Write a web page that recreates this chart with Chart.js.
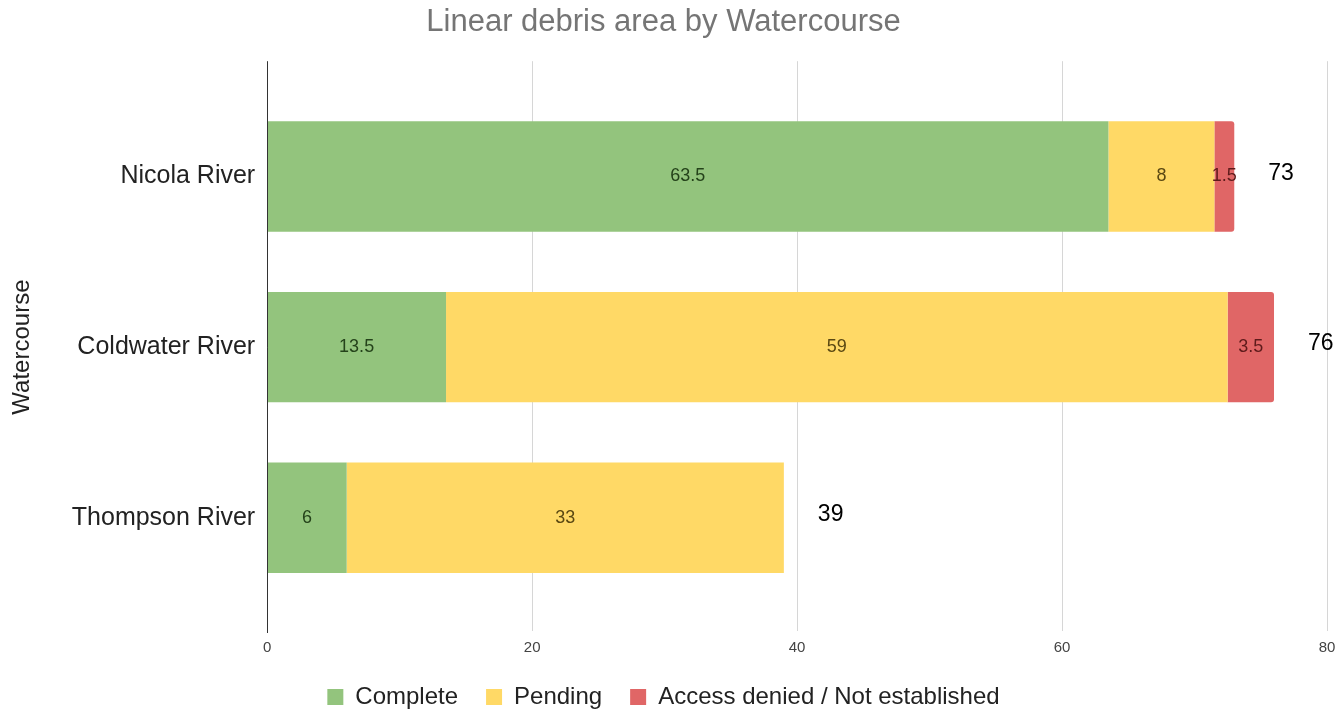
<!DOCTYPE html>
<html>
<head>
<meta charset="utf-8">
<script src="https://cdn.jsdelivr.net/npm/chart.js@4"></script>
<style>
  html, body { margin: 0; padding: 0; background: #fff; }
  #wrap { width: 1341px; height: 712px; }
</style>
</head>
<body>
<div id="wrap"><canvas id="debris-chart" width="1341" height="712"></canvas></div>
<script>
// data
var watercourses = ["Nicola River", "Coldwater River", "Thompson River"];
var complete = [63.5, 13.5, 6];
var pending = [8, 59, 33];
var denied = [1.5, 3.5, null];
var xTicks = [0, 20, 40, 60, 80];

var totals = watercourses.map(function (w, i) {
    return (complete[i] || 0) + (pending[i] || 0) + (denied[i] || 0);
});

var FONT = '"Liberation Sans", Arial, sans-serif';

// grid lines run a bit past the bars, like the sheet chart
var gridPlugin = {
    id: 'gridPlugin',
    beforeDatasetsDraw: function (chart) {
        var ctx = chart.ctx, x = chart.scales.x, a = chart.chartArea;
        ctx.save();
        ctx.lineWidth = 1;
        ctx.strokeStyle = '#d6d6d6';
        xTicks.forEach(function (t) {
            if (t === 0) return;
            var px = Math.round(x.getPixelForValue(t)) + 0.5;
            ctx.beginPath();
            ctx.moveTo(px, a.top - 30);
            ctx.lineTo(px, a.bottom + 28);
            ctx.stroke();
        });
        ctx.restore();
    },
    afterDatasetsDraw: function (chart) {
        var ctx = chart.ctx, x = chart.scales.x, a = chart.chartArea;
        ctx.save();
        // value labels inside segments
        ctx.font = '18px ' + FONT;
        ctx.textAlign = 'center';
        ctx.textBaseline = 'middle';
        chart.data.datasets.forEach(function (ds, di) {
            var meta = chart.getDatasetMeta(di);
            meta.data.forEach(function (el, i) {
                var v = ds.data[i];
                if (v == null || v === 0) return;
                var p = el.getProps(['x', 'y', 'base'], true);
                ctx.fillStyle = ds.labelColor;
                ctx.fillText(String(v), (p.x + p.base) / 2, p.y);
            });
        });
        // totals at the end of each bar
        ctx.font = '23px ' + FONT;
        ctx.textAlign = 'left';
        ctx.fillStyle = '#000';
        var meta0 = chart.getDatasetMeta(0);
        totals.forEach(function (t, i) {
            var py = meta0.data[i].y;
            ctx.fillText(String(t), x.getPixelForValue(t) + 34, py - 3);
        });
        // axis line
        var x0 = Math.round(x.getPixelForValue(0)) + 0.5;
        ctx.strokeStyle = '#333';
        ctx.lineWidth = 1;
        ctx.beginPath();
        ctx.moveTo(x0, a.top - 30);
        ctx.lineTo(x0, a.bottom + 30);
        ctx.stroke();
        ctx.restore();
    }
};

var ctx = document.getElementById('debris-chart');
new Chart(ctx, {
    type: 'bar',
    data: {
        labels: watercourses,
        datasets: [
            {
                label: 'Complete',
                data: complete,
                backgroundColor: '#93c47d',
                labelColor: '#24421a'
            },
            {
                label: 'Pending',
                data: pending,
                backgroundColor: '#ffd966',
                labelColor: '#5a4812'
            },
            {
                label: 'Access denied / Not established',
                data: denied,
                backgroundColor: '#e06666',
                labelColor: '#5e1b1b',
                borderRadius: 3
            }
        ]
    },
    options: {
        indexAxis: 'y',
        responsive: false,
        animation: false,
        categoryPercentage: 0.647,
        barPercentage: 1,
        layout: {
            padding: { left: 0, right: 14, top: 0, bottom: -7 }
        },
        plugins: {
            title: {
                display: true,
                text: 'Linear debris area by Watercourse',
                color: '#757575',
                font: { family: FONT, size: 31, weight: 'normal' },
                padding: { top: 4, bottom: 50 }
            },
            legend: {
                position: 'bottom',
                labels: {
                    boxWidth: 16,
                    boxHeight: 16,
                    padding: 28,
                    color: '#222',
                    font: { family: FONT, size: 24 }
                }
            },
            tooltip: { enabled: false }
        },
        scales: {
            x: {
                stacked: true,
                min: 0,
                max: 80,
                afterBuildTicks: function (axis) {
                    axis.ticks = xTicks.map(function (v) { return { value: v }; });
                },
                afterFit: function (axis) {
                    axis.height = 54;
                    axis.paddingLeft = 0;
                    axis.paddingRight = 0;
                },
                grid: { display: false, drawTicks: false },
                border: { display: false },
                ticks: {
                    padding: 36,
                    color: '#444',
                    font: { family: FONT, size: 15 }
                }
            },
            y: {
                stacked: true,
                afterFit: function (axis) {
                    axis.paddingTop = 0;
                    axis.paddingBottom = 0;
                },
                grid: { display: false, drawTicks: false },
                border: { display: false },
                ticks: {
                    padding: 12,
                    color: '#222',
                    font: { family: FONT, size: 25 }
                },
                title: {
                    display: true,
                    text: 'Watercourse',
                    color: '#222',
                    font: { family: FONT, size: 24 },
                    padding: { top: 8, bottom: 23 }
                }
            }
        }
    },
    plugins: [gridPlugin]
});
</script>
</body>
</html>
